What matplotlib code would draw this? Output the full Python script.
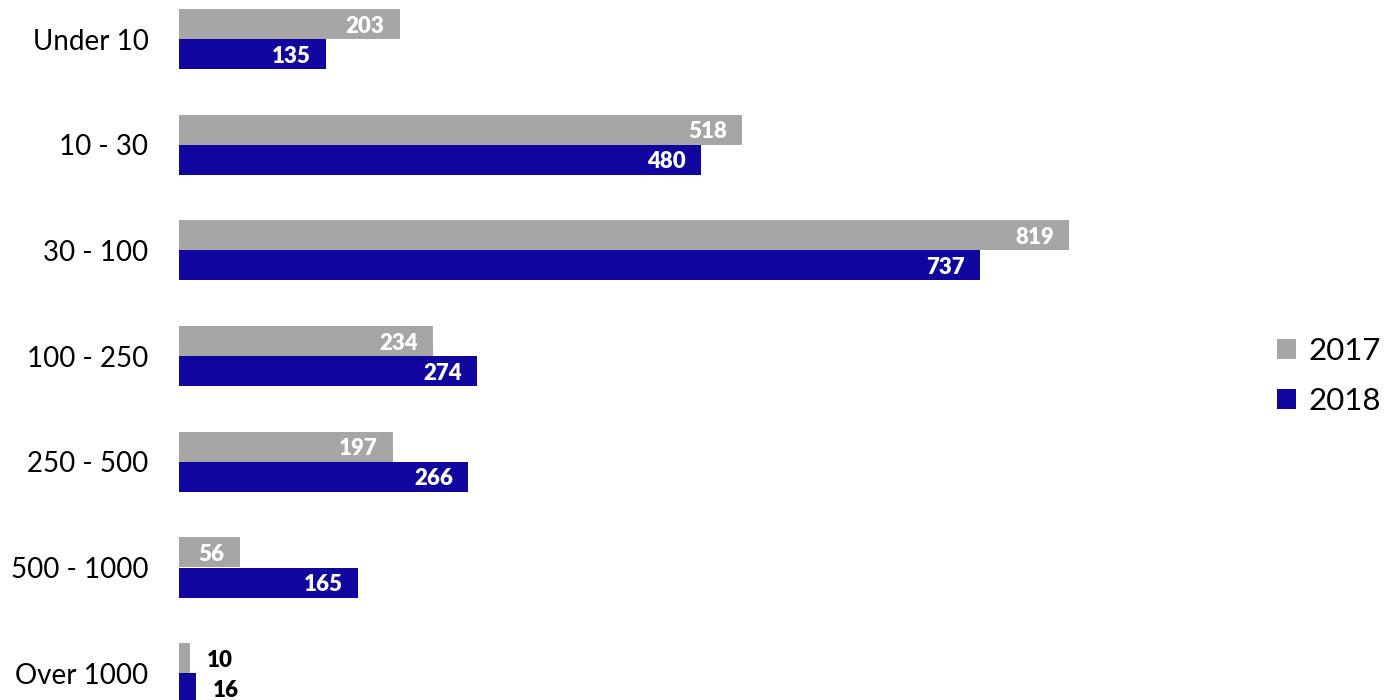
import numpy as np
import matplotlib
matplotlib.use('Agg')
from matplotlib import pyplot as plt
from matplotlib.patches import Patch

categories = ['Under 10', '10 - 30', '30 - 100', '100 - 250', '250 - 500', '500 - 1000', 'Over 1000']
values_2017 = [203, 518, 819, 234, 197, 56, 10]
values_2018 = [135, 480, 737, 274, 266, 165, 16]
series_names = ['2017', '2018']

gray = '#A6A6A6'
blue = '#10069F'

plt.rcParams['font.family'] = ['Lato', 'DejaVu Sans']

fig = plt.figure(figsize=(13.86, 7.0), dpi=100)
# axes placed in pixels: left edge 179px, 1.0867 px per unit
ax = fig.add_axes([179 / 1386, 0.0, 1087 / 1386, 1.0])

y = np.arange(len(categories))
h = 0.284

bars17 = ax.barh(y - h / 2, values_2017, height=h, color=gray)
bars18 = ax.barh(y + h / 2, values_2018, height=h, color=blue)

ax.set_xlim(0, 1000)
ax.set_ylim((700 - 39) / 105.7, -39 / 105.7)

ax.set_yticks(y)
ax.set_yticklabels(categories, fontsize=20, color='#000000')
ax.tick_params(axis='y', length=0, pad=22)
ax.set_xticks([])
for s in ax.spines.values():
    s.set_visible(False)

# value labels: inside in white, outside in black when bar is short
for bars, vals in [(bars17, values_2017), (bars18, values_2018)]:
    for b, v in zip(bars, vals):
        cy = b.get_y() + b.get_height() / 2
        if v < 40:
            ax.annotate(str(v), (v, cy), xytext=(12, -1.5), textcoords='offset points',
                        ha='left', va='center', fontsize=16, fontweight='heavy', color='black')
        else:
            ax.annotate(str(v), (v, cy), xytext=(-11, -1.5), textcoords='offset points',
                        ha='right', va='center', fontsize=16, fontweight='heavy', color='white')

handles = [Patch(facecolor=gray), Patch(facecolor=blue)]
fig.legend(handles, series_names, loc='center left', bbox_to_anchor=(1277 / 1386, 1 - 376 / 700),
           frameon=False, fontsize=22.5, handlelength=0.6, handleheight=0.6,
           handletextpad=0.4, labelspacing=0.7, borderpad=0, borderaxespad=0)

plt.savefig('out.png', dpi=100)
